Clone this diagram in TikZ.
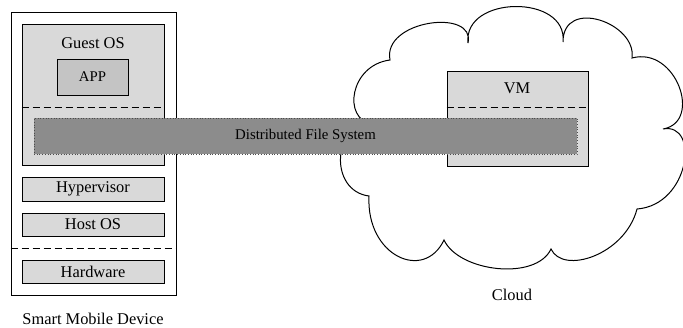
\documentclass[tikz,border=0pt]{standalone}
\usepackage{fontspec}
\setmainfont{Liberation Serif}
\definecolor{layerfill}{HTML}{D9D9D9}
\definecolor{appfill}{HTML}{C4C4C4}
\definecolor{dfsfill}{HTML}{8C8C8C}
\tikzset{
  big/.style={font=\fontsize{16.4}{19}\selectfont},
  small/.style={font=\fontsize{14.8}{17}\selectfont},
  frame/.style={draw,line width=0.8pt,inner sep=0pt},
  layer/.style={frame,fill=layerfill},
  sep/.style={line width=0.8pt,dash pattern=on 7pt off 4pt},
  cloudline/.style={line width=1pt,line join=miter},
  dfsbar/.style={draw=black!70,fill=dfsfill,dotted,line width=0.7pt,inner sep=0pt,small},
}

\begin{document}
\begin{tikzpicture}[x=1pt,y=-1pt,big]
  \useasboundingbox (0,0) rectangle (683,327);

  % device stack
  \node[frame,minimum width=165,minimum height=283] (device) at (93.5,153.5) {};
  \node[layer,minimum width=142,minimum height=141] (guest) at (93,94.5) {};
  \node (guestlbl) at (93,43) {Guest OS};
  \node[frame,fill=appfill,minimum width=71,minimum height=36,small] (app) at (92.5,77) {APP};
  \draw[sep] (guest.west |- 0,107) -- (guest.east |- 0,107);
  \node[layer,minimum width=142,minimum height=24] (hyper) at (93,189) {Hypervisor};
  \node[layer,minimum width=142,minimum height=23] (host) at (93,224.5) {Host OS};
  \draw[sep] (device.west |- 0,248) -- (device.east |- 0,248);
  \node[layer,minimum width=142,minimum height=23] (hw) at (93,271.5) {Hardware};
  \node (devlbl) at (93,319) {Smart Mobile Device};

  % cloud outline, one puff per segment (clockwise from top left)
  \draw[cloudline] (390,60)
    .. controls (382,20) and (476,8) .. (468,43)
    .. controls (463,-5) and (568,-6) .. (563,42)
    .. controls (563,-3) and (637,23) .. (632,58)
    .. controls (676,46) and (703,122) .. (663,129)
    .. controls (700,122) and (690,205) .. (637,209)
    .. controls (625,255) and (563,275) .. (551,249)
    .. controls (536,281) and (459,272) .. (444,240)
    .. controls (424,282) and (366,256) .. (369,196)
    .. controls (329,191) and (332,124) .. (372,124)
    .. controls (342,119) and (350,65) .. (390,60) -- cycle;
  \node (cloudlbl) at (512,295) {Cloud};
  \node[layer,minimum width=141,minimum height=95] (vm) at (517.5,118.5) {};
  \node (vmlbl) at (517,88) {VM};
  \draw[sep] (vm.west |- 0,107) -- (vm.east |- 0,107);

  % shared file system spans both
  \node[dfsbar,minimum width=543,minimum height=36] (dfs) at (305.5,136) {Distributed File System};
\end{tikzpicture}
\end{document}
